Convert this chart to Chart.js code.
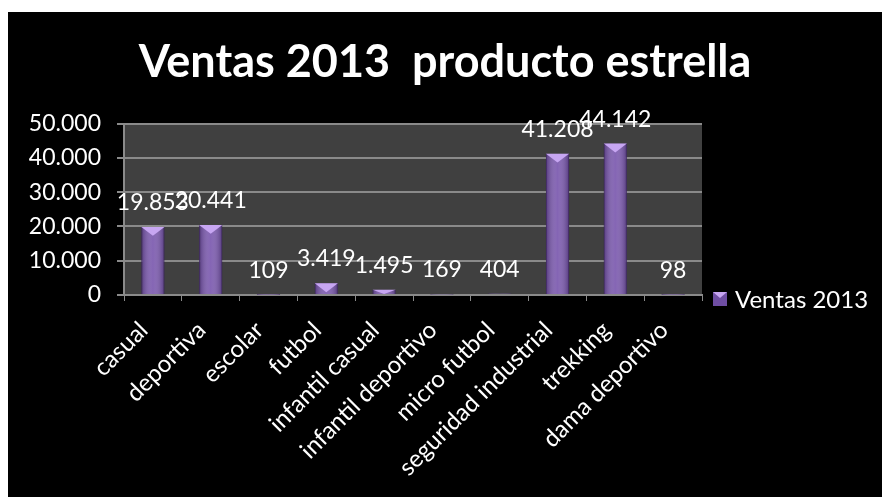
<!DOCTYPE html>
<html lang="es">
<head>
  <meta charset="UTF-8" />
  <title>Ventas 2013 producto estrella</title>
  <script src="https://cdn.jsdelivr.net/npm/chart.js"></script>
  <style>
    html, body { margin: 0; background: #fff; }
    .marco {
      position: absolute;
      left: 8px; top: 12px;
      width: 874px; height: 485px;
      background: #000;
    }
  </style>
</head>
<body>
  <div class="marco">
    <canvas id="grafico"></canvas>
  </div>

  <script>
    const categorias = ["casual", "deportiva", "escolar", "futbol", "infantil casual",
      "infantil deportivo", "micro futbol", "seguridad industrial", "trekking", "dama deportivo"];
    const ventas2013 = [19853, 20441, 109, 3419, 1495, 169, 404, 41208, 44142, 98];
    const ejeMax = 50000;
    const ejePaso = 10000;

    const fuente = "Lato, 'Open Sans', sans-serif";

    // 50000 -> "50.000"
    function formato(v) {
      return String(v).replace(/\B(?=(\d{3})+(?!\d))/g, ".");
    }

    // fondo gris del area de trazado
    const fondoArea = {
      id: "fondoArea",
      beforeDraw(chart) {
        const a = chart.chartArea;
        const c = chart.ctx;
        c.save();
        c.fillStyle = "#404040";
        c.fillRect(a.left, a.top, a.right - a.left, a.bottom - a.top);
        c.restore();
      }
    };

    // sombreado de las barras, etiquetas de datos y leyenda
    const extras = {
      id: "extras",
      afterDatasetsDraw(chart) {
        const c = chart.ctx;
        const meta = chart.getDatasetMeta(0);
        c.save();
        meta.data.forEach((bar, i) => {
          const w = bar.width;
          const x0 = bar.x - w / 2;
          const h = bar.base - bar.y;
          const g = c.createLinearGradient(x0, 0, x0 + w, 0);
          g.addColorStop(0, "rgba(40,20,70,0.45)");
          g.addColorStop(0.5, "rgba(255,255,255,0.08)");
          g.addColorStop(1, "rgba(40,20,70,0.45)");
          c.fillStyle = g;
          c.fillRect(x0, bar.y, w, h);
          // bisel superior
          const t = Math.min(w / 2.6, h);
          if (h > 2) {
            c.fillStyle = "#c7a6f2";
            c.beginPath();
            c.moveTo(x0, bar.y);
            c.lineTo(x0 + w, bar.y);
            c.lineTo(bar.x, bar.y + t);
            c.closePath();
            c.fill();
          }
          c.fillStyle = "#ffffff";
          c.font = "23px " + fuente;
          c.textAlign = "center";
          c.textBaseline = "alphabetic";
          c.fillText(formato(ventas2013[i]), bar.x, bar.y - 17);
        });

        // leyenda
        const lx = 705, ly = 280;
        c.fillStyle = "#6f4ea3";
        c.fillRect(lx, ly, 14, 14);
        c.fillStyle = "#c7a6f2";
        c.beginPath();
        c.moveTo(lx, ly);
        c.lineTo(lx + 14, ly);
        c.lineTo(lx + 7, ly + 6);
        c.closePath();
        c.fill();
        c.fillStyle = "#ffffff";
        c.font = "24px " + fuente;
        c.textAlign = "left";
        c.textBaseline = "middle";
        c.fillText("Ventas 2013", lx + 22, ly + 8);
        c.restore();
      }
    };

    new Chart(document.getElementById("grafico"), {
      type: "bar",
      data: {
        labels: categorias,
        datasets: [{
          label: "Ventas 2013",
          data: ventas2013,
          backgroundColor: "#7a58ae",
          borderColor: "#55397f",
          borderWidth: 1,
          categoryPercentage: 1,
          barPercentage: 0.4
        }]
      },
      options: {
        responsive: true,
        maintainAspectRatio: false,
        animation: false,
        layout: { padding: 0 },
        plugins: {
          legend: { display: false },
          tooltip: { enabled: false },
          title: {
            display: true,
            text: "Ventas 2013  producto estrella",
            color: "#ffffff",
            font: { family: fuente, size: 45, weight: "bold" },
            padding: { top: 23, bottom: 34.5 }
          }
        },
        scales: {
          x: {
            afterFit(s) { s.height = 202; },
            grid: {
              display: true,
              drawOnChartArea: false,
              drawTicks: true,
              tickLength: 6,
              color: "#8a8a8a"
            },
            border: { color: "#8a8a8a", width: 2 },
            ticks: {
              color: "#ffffff",
              font: { family: fuente, size: 24 },
              minRotation: 45,
              maxRotation: 45,
              padding: 15,
              labelOffset: -9,
              autoSkip: false
            }
          },
          y: {
            min: 0,
            max: ejeMax,
            afterFit(s) { s.width = 116; },
            grid: {
              color: "#8a8a8a",
              lineWidth: 2,
              tickLength: 7
            },
            border: { color: "#8a8a8a", width: 2 },
            ticks: {
              stepSize: ejePaso,
              color: "#ffffff",
              font: { family: fuente, size: 23 },
              padding: 16,
              callback: (v) => formato(v)
            }
          },
          // eje vacio que reserva el hueco de la leyenda a la derecha
          hueco: {
            position: "right",
            display: true,
            afterFit(s) { s.width = 180; },
            grid: { display: false },
            border: { display: false },
            ticks: { display: false }
          }
        }
      },
      plugins: [fondoArea, extras]
    });
  </script>
</body>
</html>
